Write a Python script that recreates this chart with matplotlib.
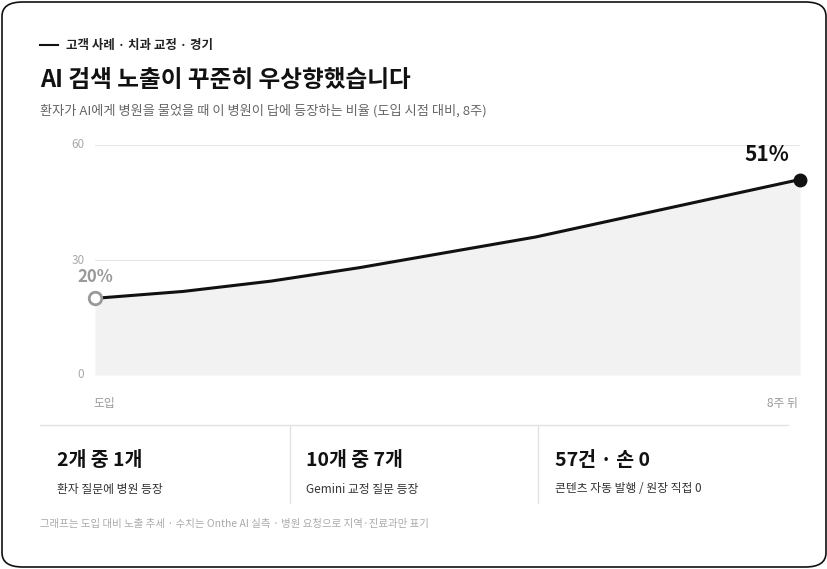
import matplotlib
matplotlib.use("Agg")
import matplotlib.pyplot as plt
from matplotlib.patches import FancyBboxPatch
from matplotlib.lines import Line2D

plt.rcParams['font.family'] = ['Noto Sans CJK KR', 'DejaVu Sans']

weeks = [0, 1, 2, 3, 4, 5, 6, 7, 8]
exposure = [20, 21.8, 24.5, 28, 32, 36, 41, 46, 51]
x_labels = ["도입", "8주 뒤"]
stat_values = ["2개 중 1개", "10개 중 7개", "57건 · 손 0"]
stat_labels = ["환자 질문에 병원 등장", "Gemini 교정 질문 등장", "콘텐츠 자동 발행 / 원장 직접 0"]

W, H = 828, 569
fig = plt.figure(figsize=(W/100, H/100), dpi=100)
fig.patch.set_facecolor('white')

def fx(x): return x / W
def fy(y): return 1 - y / H

card = FancyBboxPatch((fx(2), fy(567)), fx(824), 565/H,
                      boxstyle="round,pad=0,rounding_size=0.025",
                      transform=fig.transFigure, facecolor='white',
                      edgecolor='#111111', linewidth=1.2, zorder=-10)
fig.patches.append(card)

# header
fig.add_artist(Line2D([fx(40), fx(58)], [fy(45), fy(45)], color='#111', lw=1.5, transform=fig.transFigure))
fig.text(fx(66), fy(45), "고객 사례 · 치과 교정 · 경기", fontsize=9, fontweight='bold', va='center', color='#222')
fig.text(fx(40), fy(80), "AI 검색 노출이 꾸준히 우상향했습니다", fontsize=17, fontweight='bold', va='center', color='#111')
fig.text(fx(40), fy(111), "환자가 AI에게 병원을 물었을 때 이 병원이 답에 등장하는 비율 (도입 시점 대비, 8주)",
         fontsize=9.5, va='center', color='#666')

ax = fig.add_axes([fx(95), fy(375), (800-95)/W, (375-145)/H], zorder=5)
ax.patch.set_alpha(0)
ax.set_xlim(0, 8)
ax.set_ylim(0, 60)
for s in ax.spines.values():
    s.set_visible(False)
ax.set_xticks([])
ax.set_yticks([])
for g in [30, 60]:
    ax.axhline(g, color='#e6e6e6', lw=0.8, zorder=0)
ax.fill_between(weeks, exposure, 0, color='#f2f2f2', zorder=1, lw=0)
ax.plot(weeks, exposure, color='#111', lw=2.2, zorder=3)
ax.plot(weeks[0], exposure[0], 'o', ms=9, mfc='white', mec='#999', mew=2, zorder=4, clip_on=False)
ax.plot(weeks[-1], exposure[-1], 'o', ms=9, mfc='#111', mec='#111', zorder=4, clip_on=False)
ax.annotate(f"{exposure[0]:.0f}%", (weeks[0], exposure[0]), xytext=(0, 15), textcoords='offset points',
            ha='center', va='center', fontsize=12, fontweight='bold', color='#999')
ax.annotate(f"{exposure[-1]:.0f}%", (weeks[-1], exposure[-1]), xytext=(-24, 18), textcoords='offset points',
            ha='center', va='center', fontsize=15, fontweight='bold', color='#111')
for t in [0, 30, 60]:
    ax.text(-0.12, t, str(t), ha='right', va='center', fontsize=8.5, color='#aaa')
ax.text(0.1, -7.5, x_labels[0], ha='center', va='center', fontsize=8.5, color='#999')
ax.text(7.8, -7.5, x_labels[1], ha='center', va='center', fontsize=8.5, color='#999')

# stats
fig.add_artist(Line2D([fx(40), fx(788)], [fy(425), fy(425)], color='#e3e3e3', lw=1, transform=fig.transFigure))
for xd in [290, 538]:
    fig.add_artist(Line2D([fx(xd), fx(xd)], [fy(425), fy(503)], color='#e3e3e3', lw=1, transform=fig.transFigure))
for i, (v, l) in enumerate(zip(stat_values, stat_labels)):
    x0 = 57 + i * 249
    fig.text(fx(x0), fy(461), v, fontsize=14, fontweight='bold', va='center', color='#111')
    fig.text(fx(x0), fy(489), l, fontsize=8.5, va='center', color='#333')

fig.text(fx(40), fy(524), "그래프는 도입 대비 노출 추세 · 수치는 Onthe AI 실측 · 병원 요청으로 지역·진료과만 표기",
         fontsize=7.5, va='center', color='#aaa')

fig.savefig("out.png", dpi=100, facecolor='white')
